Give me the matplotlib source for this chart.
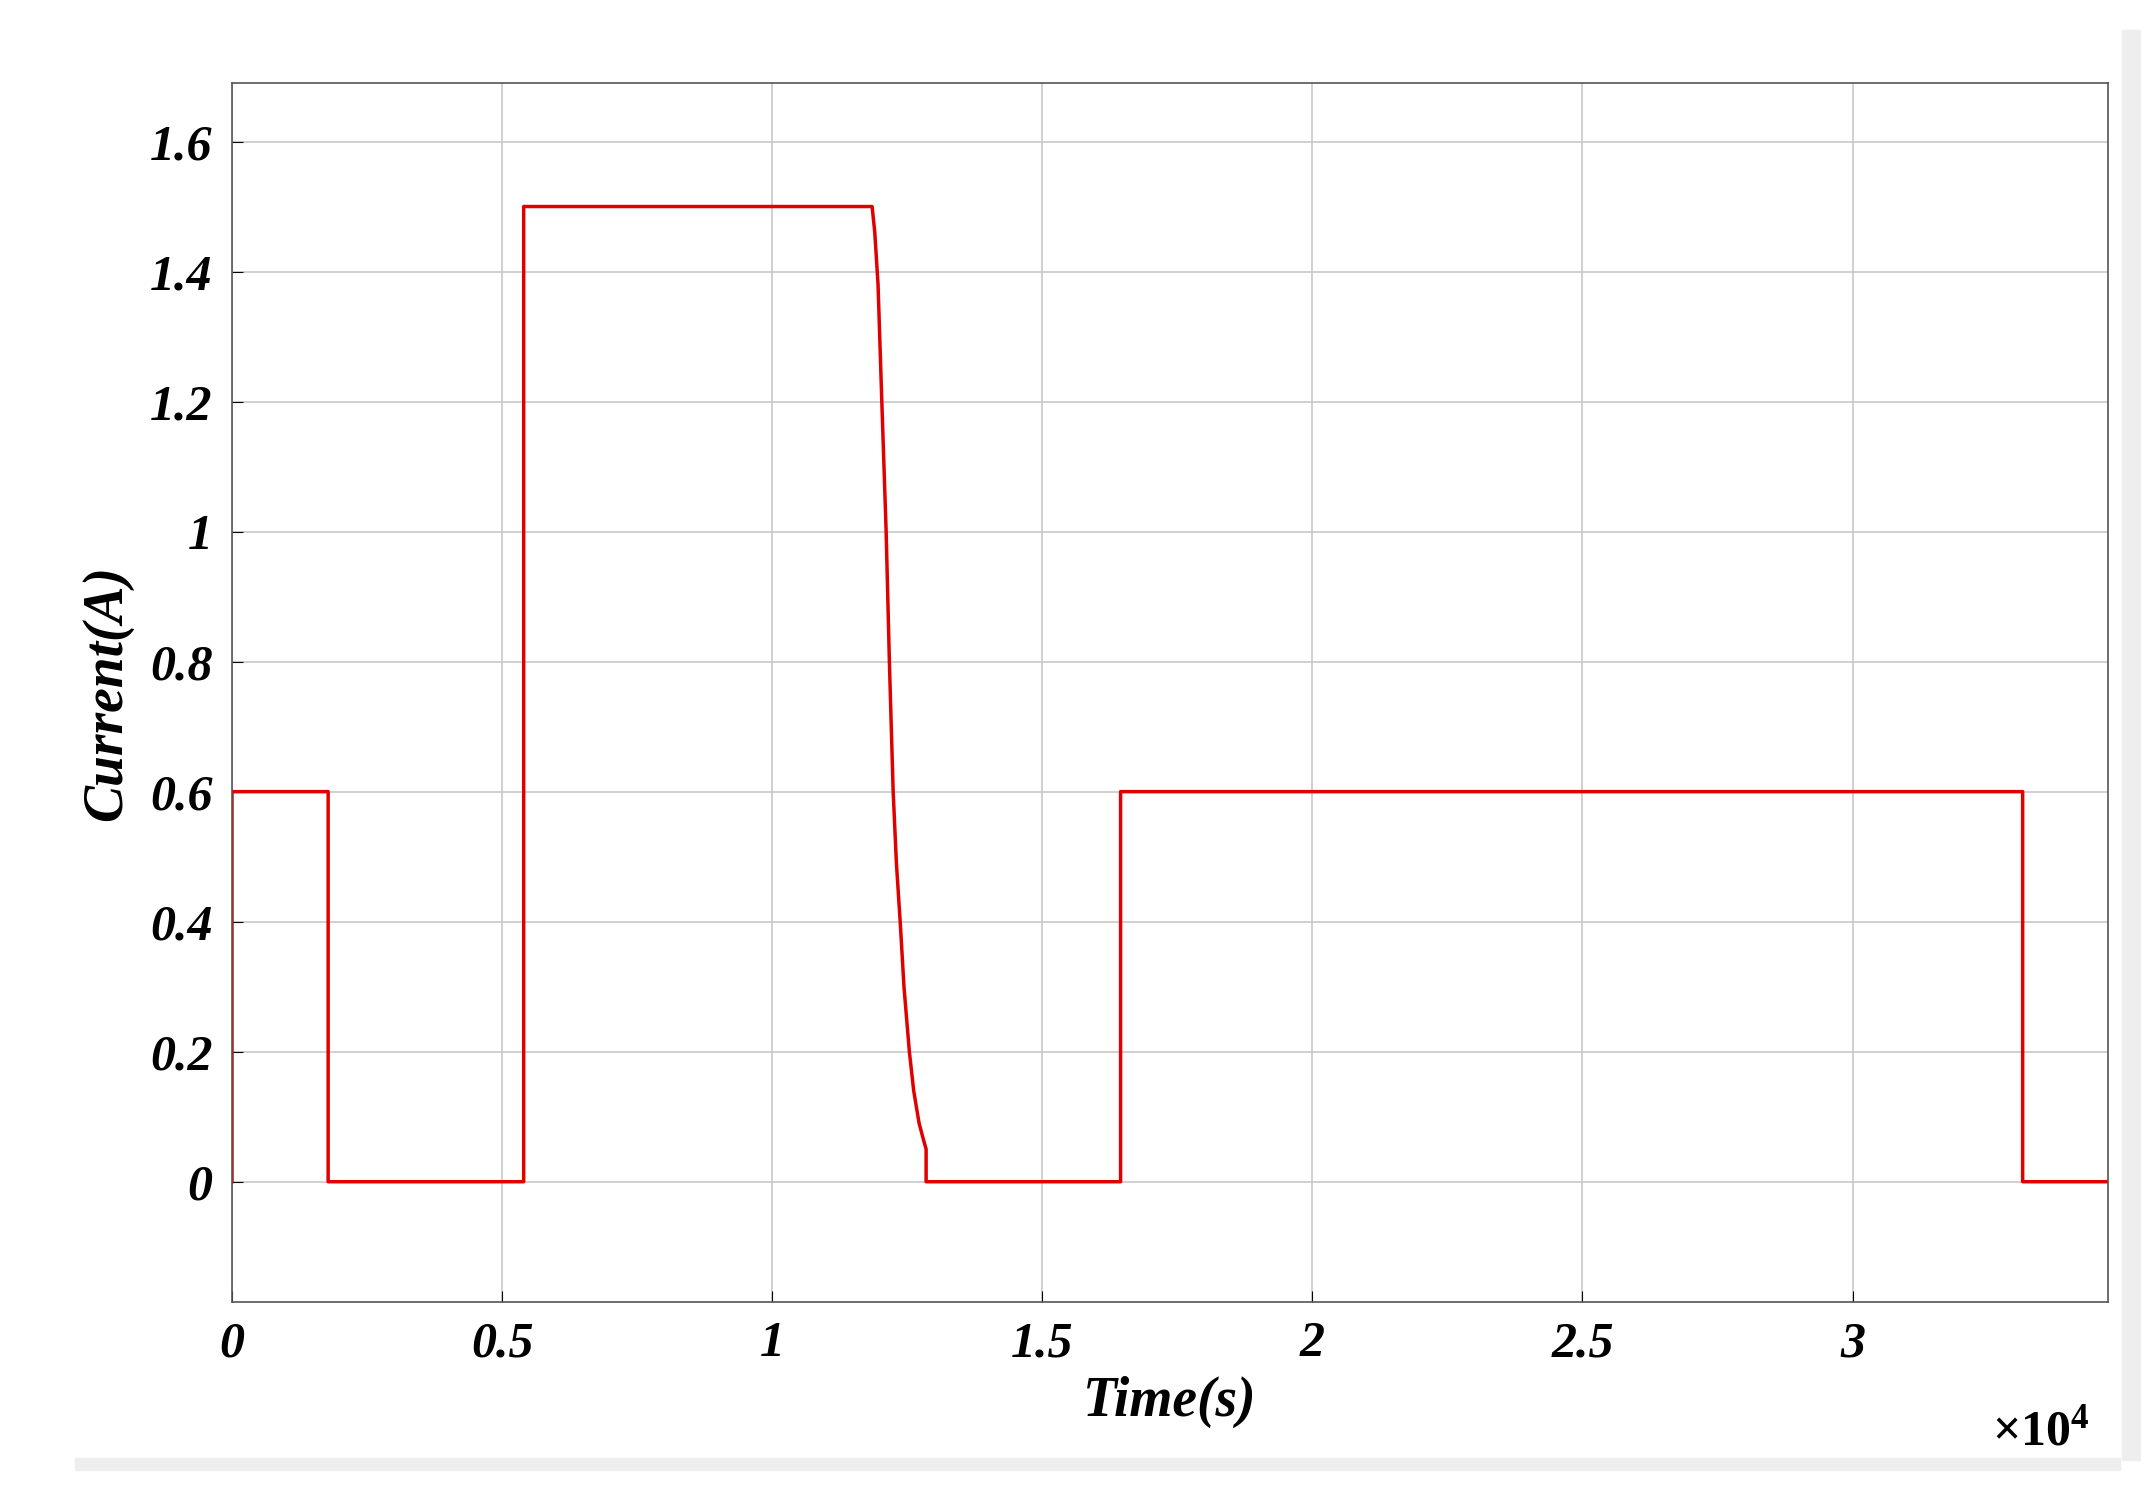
import matplotlib
matplotlib.use("Agg")
import matplotlib.pyplot as plt
import numpy as np

t = [0, 0, 1780, 1780, 5400, 5400, 11850, 11900, 11960, 12030, 12110, 12170, 12240, 12300, 12370, 12440, 12540, 12620, 12720, 12800, 12850, 12850, 16450, 16450, 33150, 33150, 34730]
i = [0, 0.6, 0.6, 0, 0, 1.5, 1.5, 1.46, 1.38, 1.2, 1.0, 0.8, 0.6, 0.49, 0.4, 0.3, 0.2, 0.14, 0.09, 0.065, 0.05, 0, 0, 0.6, 0.6, 0, 0]
xticks = [0, 5000, 10000, 15000, 20000, 25000, 30000]
xlabels = ["0", "0.5", "1", "1.5", "2", "2.5", "3"]
yticks = [0, 0.2, 0.4, 0.6, 0.8, 1.0, 1.2, 1.4, 1.6]
ylabels = ["0", "0.2", "0.4", "0.6", "0.8", "1", "1.2", "1.4", "1.6"]

plt.rcParams['font.family'] = ['Liberation Serif', 'DejaVu Serif']
plt.rcParams['mathtext.fontset'] = 'custom'
plt.rcParams['mathtext.it'] = 'Liberation Serif:italic:bold'
plt.rcParams['mathtext.rm'] = 'Liberation Serif:bold'
fig = plt.figure(figsize=(21.41, 14.90), dpi=100)
ax = fig.add_axes([232/2141, 1-1302/1490, (2108-232)/2141, (1302-83)/1490])
ax.plot(t, i, color='#e00000', lw=2.5)
ax.set_xlim(0, 34730)
ax.set_ylim(-0.185, 1.69)
ax.set_xticks(xticks)
ax.set_xticklabels(xlabels)
ax.set_yticks(yticks)
ax.set_yticklabels(ylabels)
ax.grid(True, color='#c8c8c8', lw=1.2)
ax.tick_params(direction='in', length=8, labelsize=36, pad=14)
for lab in ax.get_xticklabels() + ax.get_yticklabels():
    lab.set_fontweight('bold'); lab.set_fontstyle('italic')
for s in ax.spines.values():
    s.set_color('#555555'); s.set_linewidth(1.2)
ax.set_xlabel('Time(s)', fontsize=40, fontweight='bold', fontstyle='italic', labelpad=6)
ax.set_ylabel('Current(A)', fontsize=40, fontweight='bold', fontstyle='italic', labelpad=12)
fig.text(2090/2141, 1-1432/1490, r'$\times\mathit{10^4}$', fontsize=36, ha='right', va='center')
fig.patches.append(plt.Rectangle((2122/2141, 0.02), 0.01, 0.96, transform=fig.transFigure, color='#eeeeee'))
fig.patches.append(plt.Rectangle((75/2141, 1-1470/1490), 0.955, 0.008, transform=fig.transFigure, color='#eeeeee'))
fig.savefig('out.png', dpi=100)
